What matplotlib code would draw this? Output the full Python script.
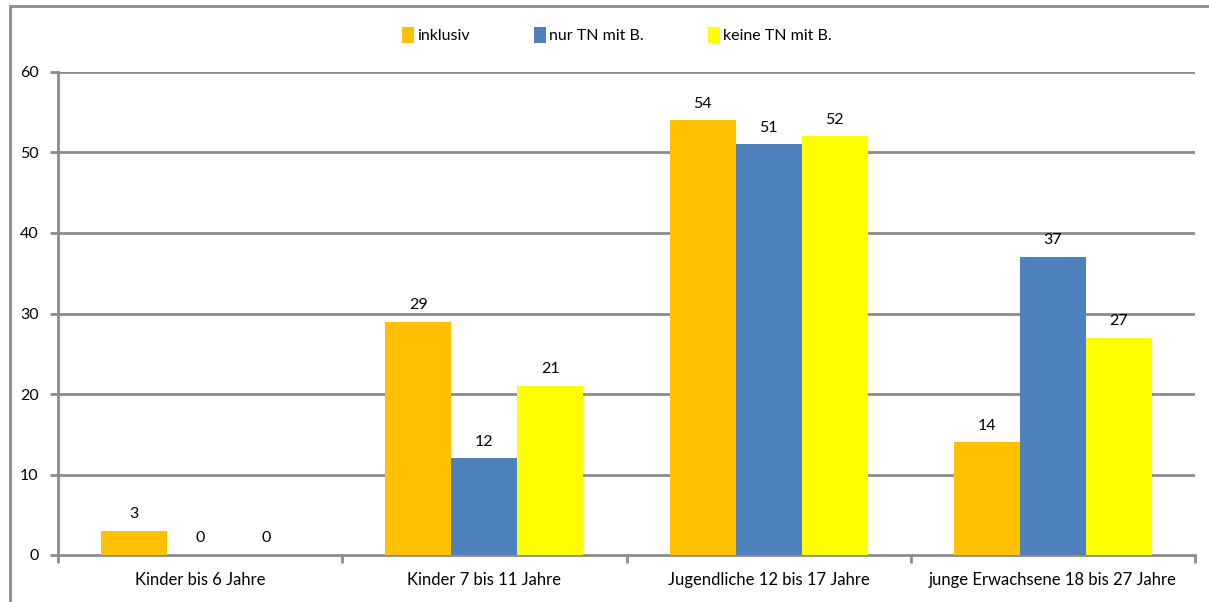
import matplotlib
matplotlib.use("Agg")
import matplotlib.pyplot as plt
from matplotlib.patches import Rectangle
import numpy as np

plt.rcParams['font.family'] = ['Lato', 'DejaVu Sans']

categories = ["Kinder bis 6 Jahre", "Kinder 7 bis 11 Jahre",
              "Jugendliche 12 bis 17 Jahre", "junge Erwachsene 18 bis 27 Jahre"]
series_names = ["inklusiv", "nur TN mit B.", "keine TN mit B."]
inklusiv = [3, 29, 54, 14]
nur_tn = [0, 12, 51, 37]
keine_tn = [0, 21, 52, 27]
colors = ["#FFC000", "#4F81BD", "#FFFF00"]
y_ticks = [0, 10, 20, 30, 40, 50, 60]

W, H = 1209, 602
fig = plt.figure(figsize=(W / 100, H / 100), dpi=100)
ax = fig.add_axes([58 / W, 1 - 555 / H, (1195 - 58) / W, (555 - 72) / H])

grid_c = "#8C8C8C"
fs = 12
x = np.arange(len(categories))
bw = 0.232
for i, (vals, c, name) in enumerate(zip([inklusiv, nur_tn, keine_tn], colors, series_names)):
    pos = x + (i - 1) * bw
    ax.bar(pos, vals, width=bw, color=c, label=name, zorder=3, linewidth=0)
    for p, v in zip(pos, vals):
        ax.text(p, v + 1.2, str(v), ha="center", va="bottom", fontsize=fs - 0.5, color="#000000")

ax.set_xlim(-0.5, len(categories) - 0.5)
ax.set_ylim(0, 60)
ax.set_yticks(y_ticks)
ax.set_yticklabels([str(t) for t in y_ticks], fontsize=fs - 0.5)
for t in y_ticks[1:]:
    ax.axhline(t, color=grid_c, lw=2, zorder=1)

ax.set_xticks(np.arange(-0.5, len(categories), 1.0))
ax.set_xticklabels([])
ax.set_xticks(x, minor=True)
ax.set_xticklabels(categories, minor=True, fontsize=fs)
ax.tick_params(axis="x", which="minor", length=0, pad=12)
ax.tick_params(axis="x", which="major", length=6, width=2, color=grid_c)
ax.tick_params(axis="y", length=6, width=2, color=grid_c, pad=8)

for s in ["top", "right"]:
    ax.spines[s].set_visible(False)
for s in ["left", "bottom"]:
    ax.spines[s].set_color(grid_c)
    ax.spines[s].set_linewidth(2)

fig.legend(loc="center", bbox_to_anchor=(617 / W, 1 - 35 / H), ncol=3, frameon=False,
           fontsize=fs - 0.5, handlelength=0.75, handleheight=1.2, handletextpad=0.2,
           columnspacing=4.0)

fig.patches.append(Rectangle((10 / W, -0.1), 1.2, 1 - 6 / H + 0.1, transform=fig.transFigure,
                             fill=False, edgecolor=grid_c, lw=2))

fig.savefig("out.png", dpi=100)
